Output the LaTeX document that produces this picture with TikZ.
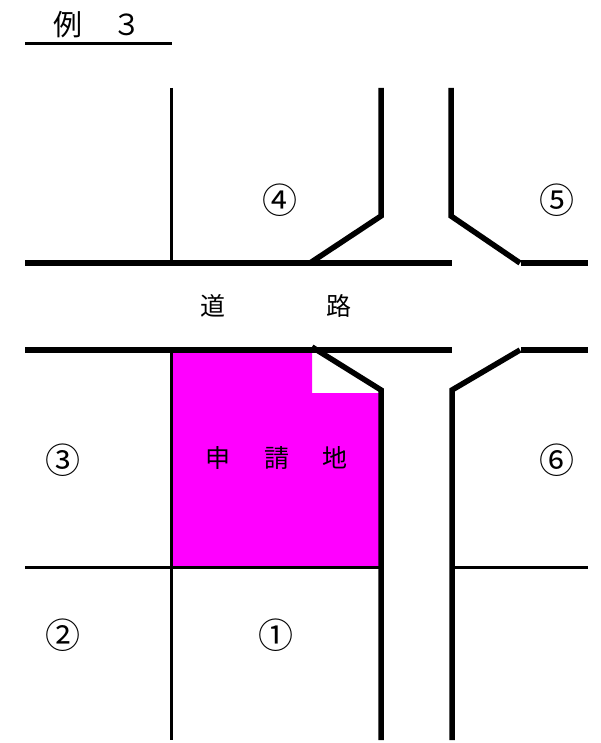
\documentclass[tikz,border=0pt]{standalone}
\usepackage{fontspec}
\setmainfont{Noto Sans CJK JP}
\newfontfamily\jpfont{Noto Sans CJK JP}
\definecolor{plotmag}{RGB}{255,0,255}
\begin{document}
\begin{tikzpicture}[x=1pt,y=-1pt,
  thickline/.style={line width=5.5pt,black},
  thinline/.style={line width=3pt,black},
  lbl/.style={inner sep=0pt,font=\jpfont\fontsize{25}{25}\selectfont},
  ttl/.style={inner sep=0pt,font=\jpfont\fontsize{29}{29}\selectfont},
  num/.style={inner sep=0pt,font=\jpfont\fontsize{35}{35}\selectfont}]
\useasboundingbox (0,0) rectangle (600,743);
% applicant plot
\fill[plotmag] (171,350) -- (312,350) -- (312,393) -- (380,393) -- (380,567) -- (171,567) -- cycle;
% title
\node[ttl] (t1) at (68,25) {例};
\node[ttl] (t2) at (127,25) {３};
\draw[line width=3pt] (25,44) -- (172,44);
% thin lines
\draw[thinline] (171,88) -- (171,263);
\draw[thinline] (171,350) -- (171,740);
\draw[thinline] (25,567) -- (380,567);
\draw[thinline] (452,567) -- (588,567);
% road edges
\draw[thickline] (25,263) -- (452,263);
\draw[thickline] (521,263) -- (588,263);
\draw[thickline] (25,350) -- (452,350);
\draw[thickline] (521,350) -- (588,350);
% corners top
\draw[thickline] (381,88) -- (381,216) -- (310,263);
\draw[thickline] (451,88) -- (451,216) -- (520,263);
% corners bottom
\draw[thickline] (312,347) -- (381,390) -- (381,740);
\draw[thickline] (520,350) -- (452,390) -- (452,740);
% labels
\node[num] (n4) at (280,200) {④};
\node[num] (n5) at (557,200) {⑤};
\node[lbl] (r1) at (213,306) {道};
\node[lbl] (r2) at (339,306) {路};
\node[num] (n3) at (63,460) {③};
\node[lbl] (s1) at (218,458) {申};
\node[lbl] (s2) at (277,458) {請};
\node[lbl] (s3) at (335,458) {地};
\node[num] (n6) at (557,460) {⑥};
\node[num] (n2) at (63,635) {②};
\node[num] (n1) at (276,635) {①};
\end{tikzpicture}
\end{document}
